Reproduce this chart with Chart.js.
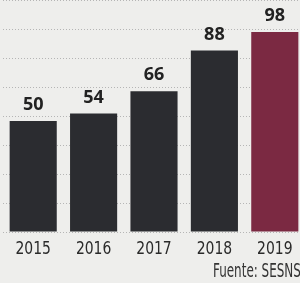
<!DOCTYPE html>
<html>
<head>
<meta charset="utf-8">
<script src="https://cdn.jsdelivr.net/npm/chart.js@4"></script>
<style>
  html, body { margin: 0; padding: 0; background: #eeeeec; overflow: hidden; }
  #wrap { position: absolute; left: 0; top: 0; width: 306px; height: 283px; }
</style>
</head>
<body>
<div id="wrap"><canvas id="chart"></canvas></div>
<script>
// Data
const years = ['2015', '2016', '2017', '2018', '2019'];
const values = [50, 54, 66, 88, 98];
const barColors = ['#2b2c30', '#2b2c30', '#2b2c30', '#2b2c30', '#7b2942'];
const sourceText = 'Fuente: SESNSP';

// y range used by the original layout (bars don't start at zero)
const yMin = -10;
const yMax = 115.3;
const gridCount = 8;

const condensed = '"DejaVu Sans Condensed", "DejaVu Sans", sans-serif';

// value labels, squeezed year labels and the source line
const labelsPlugin = {
  id: 'valueLabels',
  afterDatasetsDraw(chart) {
    const ctx = chart.ctx;
    const meta = chart.getDatasetMeta(0);
    const xs = chart.scales.x;
    const area = chart.chartArea;
    ctx.save();
    ctx.fillStyle = '#222';
    ctx.font = 'bold 18px "Open Sans", sans-serif';
    ctx.textAlign = 'center';
    ctx.textBaseline = 'bottom';
    meta.data.forEach((bar, i) => {
      ctx.fillText(values[i], bar.x, bar.y - 7);
    });

    // year labels, a narrow face like the print original
    ctx.font = '18px ' + condensed;
    ctx.fillStyle = '#2a2a2a';
    ctx.textBaseline = 'alphabetic';
    years.forEach((y, i) => {
      const px = xs.getPixelForValue(i);
      ctx.save();
      ctx.translate(px, area.bottom + 22);
      ctx.scale(0.86, 1);
      ctx.fillText(y, 0, 0);
      ctx.restore();
    });

    ctx.font = '19px ' + condensed;
    ctx.textAlign = 'left';
    ctx.fillStyle = '#333';
    ctx.translate(213, 277);
    ctx.scale(0.7, 1);
    ctx.fillText(sourceText, 0, 0);
    ctx.restore();
  }
};

new Chart(document.getElementById('chart'), {
  type: 'bar',
  data: {
    labels: years,
    datasets: [{
      data: values,
      base: yMin,
      backgroundColor: barColors,
      borderWidth: 0,
      barPercentage: 0.78,
      categoryPercentage: 1
    }]
  },
  options: {
    responsive: true,
    maintainAspectRatio: false,
    animation: false,
    layout: { padding: { left: 3, right: 1, top: 0, bottom: 51 } },
    plugins: { legend: { display: false }, tooltip: { enabled: false } },
    scales: {
      x: {
        grid: { display: false, drawTicks: false },
        border: { display: false },
        ticks: { display: false }
      },
      y: {
        min: yMin,
        max: yMax,
        afterBuildTicks(scale) {
          const step = (yMax - yMin) / gridCount;
          const t = [];
          for (let k = 0; k <= gridCount; k++) t.push({ value: yMin + k * step });
          scale.ticks = t;
        },
        grid: { color: '#b5b5b5', drawTicks: false, lineWidth: 1 },
        border: { display: false, dash: [1, 2] },
        ticks: { display: false }
      }
    }
  },
  plugins: [labelsPlugin]
});
</script>
</body>
</html>
